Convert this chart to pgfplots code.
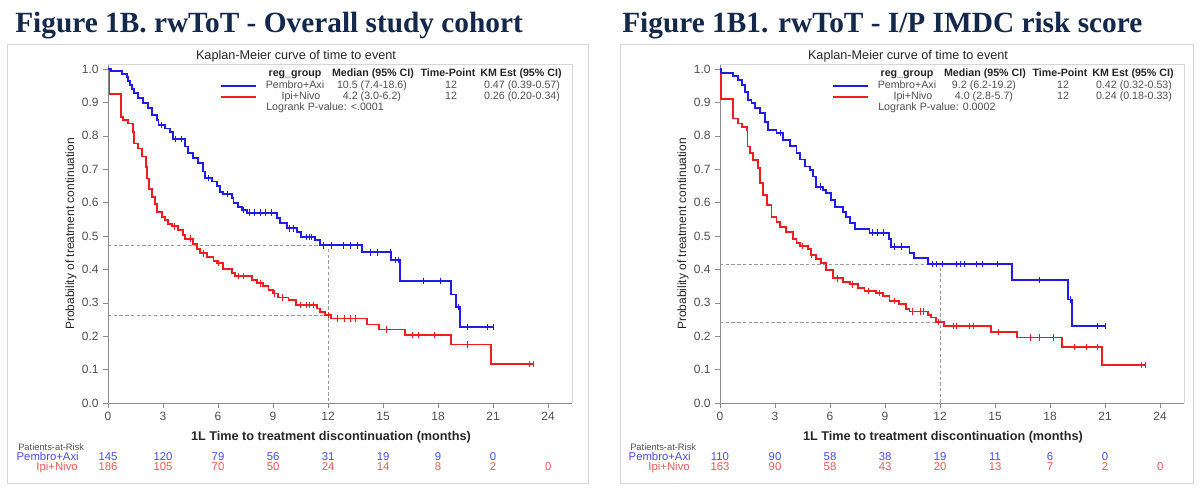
\documentclass[border=0pt]{standalone}
\usepackage{fontspec}
\setmainfont{Liberation Sans}
\newfontfamily\titlefont{Liberation Serif}
\usepackage{pgfplots}
\pgfplotsset{compat=1.18}
\usepackage{pgfplotstable}

\definecolor{navy}{HTML}{14284B}
\definecolor{kmblue}{HTML}{1E1EE6}
\definecolor{kmred}{HTML}{F01E1E}
\definecolor{riskblue}{HTML}{4B4BE6}
\definecolor{riskred}{HTML}{E85A5A}
\definecolor{txtgray}{HTML}{505050}
\definecolor{axgray}{HTML}{8C8C8C}
\definecolor{framegray}{HTML}{D6D6D6}
\definecolor{refgray}{HTML}{9A9A9A}

% ---------- Kaplan-Meier estimates: overall cohort ----------
\pgfplotstableread{
t p
0 1.000
0.15 0.993
0.75 0.986
1.02 0.977
1.10 0.965
1.20 0.952
1.30 0.940
1.42 0.927
1.65 0.912
1.93 0.897
2.20 0.882
2.38 0.862
2.65 0.847
2.75 0.832
3.11 0.822
3.38 0.812
3.56 0.790
4.20 0.768
4.38 0.748
4.65 0.733
4.93 0.718
5.20 0.693
5.29 0.673
5.66 0.663
5.93 0.650
6.11 0.633
6.29 0.626
6.75 0.613
6.84 0.598
7.11 0.588
7.29 0.578
7.56 0.570
9.20 0.553
9.38 0.540
9.75 0.523
10.29 0.513
10.50 0.497
11.29 0.487
11.57 0.472
13.84 0.451
15.44 0.428
15.93 0.366
18.69 0.325
18.97 0.287
19.17 0.228
21.02 0.228
}\ovBlue
\pgfplotstableread{
t p
0 1.000
0.08 0.925
0.71 0.857
0.84 0.847
1.11 0.837
1.35 0.812
1.42 0.777
1.65 0.762
1.84 0.738
2.07 0.707
2.15 0.672
2.25 0.642
2.38 0.617
2.56 0.597
2.69 0.572
2.93 0.557
3.11 0.547
3.29 0.537
3.47 0.529
3.84 0.517
4.07 0.502
4.20 0.492
4.65 0.477
4.84 0.460
5.02 0.448
5.38 0.438
5.75 0.425
5.95 0.420
6.25 0.400
6.75 0.388
6.93 0.381
7.84 0.368
8.11 0.358
8.47 0.350
8.75 0.338
9.02 0.328
9.29 0.316
9.84 0.308
10.25 0.293
11.38 0.283
11.57 0.273
11.84 0.264
12.15 0.253
14.11 0.235
14.78 0.220
16.20 0.204
18.69 0.175
20.88 0.117
23.20 0.117
}\ovRed
\pgfplotstableread{
t p
2.9 0.832
3.7 0.790
4.0 0.790
5.5 0.673
6.5 0.626
7.4 0.578
7.7 0.570
8.0 0.570
8.3 0.570
8.6 0.570
8.9 0.570
9.9 0.523
10.1 0.523
10.8 0.497
11.0 0.497
11.1 0.497
11.75 0.472
12.2 0.472
12.84 0.472
13.2 0.472
13.6 0.472
14.3 0.451
14.7 0.451
15.4 0.451
15.65 0.428
15.84 0.428
17.2 0.366
18.1 0.366
19.1 0.287
19.6 0.228
20.7 0.228
21.02 0.228
}\ovBlueCens
\pgfplotstableread{
t p
3.6 0.529
4.5 0.492
5.2 0.448
6.0 0.420
7.1 0.381
7.4 0.381
8.3 0.358
9.1 0.328
9.5 0.316
10.5 0.293
10.8 0.293
11.0 0.293
11.2 0.293
12.0 0.264
12.5 0.253
12.9 0.253
13.2 0.253
13.5 0.253
15.2 0.220
16.6 0.204
16.9 0.204
17.8 0.204
19.6 0.175
23.0 0.117
23.2 0.117
}\ovRedCens

% ---------- Kaplan-Meier estimates: I/P IMDC risk score ----------
\pgfplotstableread{
t p
0 1.000
0.05 0.988
0.72 0.979
1.00 0.967
1.18 0.952
1.36 0.932
1.54 0.907
1.72 0.897
1.90 0.882
2.17 0.867
2.45 0.842
2.63 0.817
3.08 0.809
3.44 0.787
3.80 0.769
4.17 0.749
4.35 0.729
4.62 0.708
4.89 0.698
5.07 0.678
5.25 0.648
5.62 0.638
5.80 0.628
6.07 0.608
6.25 0.586
6.70 0.573
6.88 0.557
7.07 0.540
7.34 0.520
8.15 0.510
9.20 0.490
9.33 0.468
10.33 0.448
10.60 0.435
11.32 0.416
15.94 0.368
18.98 0.310
19.17 0.231
21.00 0.231
}\ipBlue
\pgfplotstableread{
t p
0 1.000
0.05 0.910
0.72 0.852
1.00 0.837
1.20 0.827
1.45 0.817
1.50 0.768
1.63 0.748
1.81 0.728
2.08 0.703
2.17 0.658
2.36 0.623
2.57 0.593
2.81 0.557
3.08 0.543
3.26 0.528
3.59 0.513
4.00 0.490
4.17 0.480
4.35 0.470
4.80 0.460
4.98 0.443
5.25 0.430
5.53 0.418
5.80 0.398
6.16 0.373
6.70 0.363
7.07 0.355
7.52 0.345
7.88 0.335
8.51 0.330
8.88 0.321
9.24 0.306
9.78 0.296
10.14 0.281
10.33 0.274
11.32 0.264
11.50 0.256
11.77 0.243
12.20 0.230
14.76 0.212
16.21 0.196
18.66 0.168
20.83 0.113
23.20 0.113
}\ipRed
\pgfplotstableread{
t p
3.3 0.809
5.5 0.648
8.3 0.510
8.6 0.510
8.9 0.510
9.5 0.468
9.9 0.468
11.6 0.416
11.8 0.416
12.1 0.416
12.9 0.416
13.1 0.416
13.3 0.416
14.0 0.416
14.3 0.416
15.1 0.416
17.4 0.368
19.1 0.310
20.6 0.231
21.0 0.231
}\ipBlueCens
\pgfplotstableread{
t p
4.5 0.470
5.0 0.443
6.4 0.373
7.2 0.355
8.1 0.335
8.7 0.330
9.5 0.306
10.5 0.274
10.9 0.274
11.1 0.274
11.9 0.243
12.7 0.230
12.9 0.230
13.6 0.230
13.8 0.230
15.2 0.212
16.9 0.196
17.4 0.196
18.2 0.196
19.3 0.168
20.0 0.168
20.6 0.168
23.0 0.113
23.2 0.113
}\ipRedCens

\pgfplotsset{
  kmaxis/.style={
    scale only axis, width=348pt, height=254.25pt,
    anchor=south west,
    xmin=0, xmax=25.3, ymin=0, ymax=1.015,
    axis lines*=left, axis line style={-, draw=axgray},
    xtick={0,3,6,9,12,15,18,21,24},
    ytick={0,0.1,0.2,0.3,0.4,0.5,0.6,0.7,0.8,0.9,1.0},
    tick align=outside, major tick length=3.5pt,
    tick style={draw=axgray, thin},
    /pgf/number format/assume math mode=true,
    ticklabel style={font=\fontsize{9}{10}\selectfont, text=txtgray},
    yticklabel style={/pgf/number format/.cd, fixed, fixed zerofill, precision=1},
    clip=false,
  },
  kmcurve/.style={const plot, line width=1.4pt, draw=#1},
  kmcens/.style={only marks, mark=|, mark size=2.4pt, mark options={draw=#1, line width=0.6pt}},
  refline/.style={draw=refgray, line width=0.4pt, dash pattern=on 2.5pt off 1.8pt},
}

% numbers at risk, one row: vertical position, colour, list of time/count
\newcommand{\riskrow}[3]{%
  \foreach \rt/\rn in {#3} {%
    \edef\riskcmd{\noexpand\node[anchor=base, font=\noexpand\fontsize{8.5}{9}\noexpand\selectfont, text=#2] at (axis cs:\rt,#1) {\rn};}%
    \riskcmd
  }}

\begin{document}
\begin{tikzpicture}[x=0.75pt, y=0.75pt]
\path[use as bounding box] (0,0) rectangle (1200,492);

% panel frames
\draw[framegray, line width=0.6pt] (7,448) rectangle (588,9);
\draw[framegray, line width=0.6pt] (620,448) rectangle (1193,9);

% headings
\node[anchor=base west, font=\titlefont\bfseries\fontsize{22}{24}\selectfont, text=navy, inner sep=0pt] at (15,459) {Figure 1B. rwToT - Overall study cohort};
\node[anchor=base west, font=\titlefont\bfseries\fontsize{22}{24}\selectfont, text=navy, inner sep=0pt] at (622,459) {Figure 1B1. rwToT - I/P IMDC risk score};

% ===== left panel =====
\begin{axis}[kmaxis, at={(81pt,66.75pt)}]
  \draw[framegray] (rel axis cs:0,1) -- (rel axis cs:1,1) -- (rel axis cs:1,0);
  \addplot[refline] coordinates {(0,0.472) (12,0.472) (12,0)};
  \addplot[refline] coordinates {(0,0.262) (12,0.262)};
  \addplot[kmcurve=kmred] table[x=t, y=p] {\ovRed};
  \addplot[kmcens=kmred] table[x=t, y=p] {\ovRedCens};
  \addplot[kmcurve=kmblue] table[x=t, y=p] {\ovBlue};
  \addplot[kmcens=kmblue] table[x=t, y=p] {\ovBlueCens};
  \riskrow{-0.172}{riskblue}{0/145,3/120,6/79,9/56,12/31,15/19,18/9,21/0}
  \riskrow{-0.202}{riskred}{0/186,3/105,6/70,9/50,12/24,15/14,18/8,21/2,24/0}
\end{axis}

% ===== right panel =====
\begin{axis}[kmaxis, at={(540pt,66.75pt)}]
  \draw[framegray] (rel axis cs:0,1) -- (rel axis cs:1,1) -- (rel axis cs:1,0);
  \addplot[refline] coordinates {(0,0.416) (12,0.416) (12,0)};
  \addplot[refline] coordinates {(0,0.242) (12,0.242)};
  \addplot[kmcurve=kmred] table[x=t, y=p] {\ipRed};
  \addplot[kmcens=kmred] table[x=t, y=p] {\ipRedCens};
  \addplot[kmcurve=kmblue] table[x=t, y=p] {\ipBlue};
  \addplot[kmcens=kmblue] table[x=t, y=p] {\ipBlueCens};
  \riskrow{-0.172}{riskblue}{0/110,3/90,6/58,9/38,12/19,15/11,18/6,21/0}
  \riskrow{-0.202}{riskred}{0/163,3/90,6/58,9/43,12/20,15/13,18/7,21/2,24/0}
\end{axis}

% ===== annotations common to both panels =====
\foreach \dx/\med/\mlo/\kmb/\kmr/\pv in {
  0/{10.5 (7.4-18.6)}/{4.2 (3.0-6.2)}/{0.47 (0.39-0.57)}/{0.26 (0.20-0.34)}/{<.0001},
  612/{9.2 (6.2-19.2)}/{4.0 (2.8-5.7)}/{0.42 (0.32-0.53)}/{0.24 (0.18-0.33)}/{0.0002}} {
  \begin{scope}[xshift=\dx*0.75pt]
    \node[anchor=base, font=\fontsize{9.5}{10}\selectfont, text=black!85] at (296,432) {Kaplan-Meier curve of time to event};
    % legend table
    \begin{scope}[every node/.style={anchor=base, font=\fontsize{8}{9}\selectfont, inner sep=0pt}]
      \node[font=\fontsize{8}{9}\selectfont\bfseries, text=black!85] at (295,415) {reg\_group};
      \node[font=\fontsize{8}{9}\selectfont\bfseries, text=black!85] at (373,415) {Median (95\% CI)};
      \node[font=\fontsize{8}{9}\selectfont\bfseries, text=black!85] at (448,415) {Time-Point};
      \node[font=\fontsize{8}{9}\selectfont\bfseries, text=black!85] at (521,415) {KM Est (95\% CI)};
      \draw[kmblue, line width=0.8pt] (221,406) -- (256,406);
      \draw[kmred, line width=0.8pt] (221,395) -- (256,395);
      \node[text=txtgray] at (295,403) {Pembro+Axi};
      \node[text=txtgray] at (301,392) {Ipi+Nivo};
      \node[text=txtgray] at (372,403) {\med};
      \node[text=txtgray] at (372,392) {\mlo};
      \node[text=txtgray] at (451,403) {12};
      \node[text=txtgray] at (451,392) {12};
      \node[text=txtgray] at (522,403) {\kmb};
      \node[text=txtgray] at (522,392) {\kmr};
      \node[text=txtgray, anchor=base west] at (266,381) {Logrank P-value: \pv};
    \end{scope}
    % axis titles
    \node[rotate=90, font=\fontsize{9}{10}\selectfont, text=black!85] at (71,258) {Probability of treatment continuation};
    \node[anchor=base, font=\fontsize{9.5}{10}\selectfont\bfseries, text=black!85] at (331,51) {1L Time to treatment discontinuation (months)};
    % at-risk table labels
    \node[anchor=base west, font=\fontsize{7}{8}\selectfont, text=txtgray, inner sep=0pt] at (18,41) {Patients-at-Risk};
    \node[anchor=base east, font=\fontsize{8.5}{9}\selectfont, text=riskblue, inner sep=0pt] at (79,31) {Pembro+Axi};
    \node[anchor=base east, font=\fontsize{8.5}{9}\selectfont, text=riskred, inner sep=0pt] at (78,21) {Ipi+Nivo};
  \end{scope}
}
\end{tikzpicture}
\end{document}
